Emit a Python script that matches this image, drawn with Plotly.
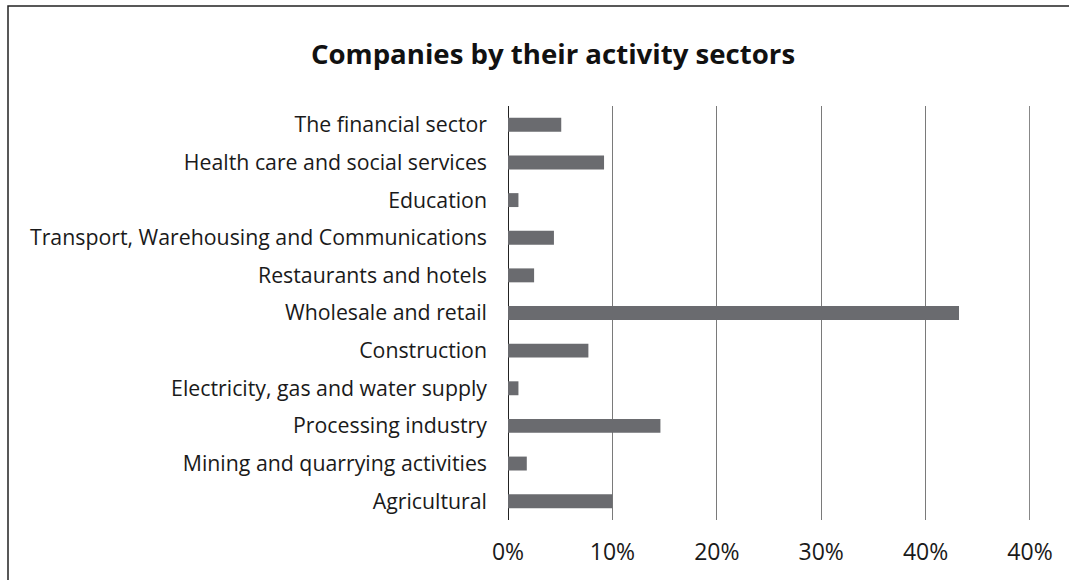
import plotly.graph_objects as go

categories = [
    "Agricultural",
    "Mining and quarrying activities",
    "Processing industry",
    "Electricity, gas and water supply",
    "Construction",
    "Wholesale and retail",
    "Restaurants and hotels",
    "Transport, Warehousing and Communications",
    "Education",
    "Health care and social services",
    "The financial sector",
]
values = [10.0, 1.8, 14.6, 1.0, 7.7, 43.2, 2.5, 4.4, 1.0, 9.2, 5.1]
tick_vals = [0, 10, 20, 30, 40, 50]
tick_text = ["0%", "10%", "20%", "30%", "40%", "40%"]

W, H = 1069, 580
ML, MR, MT, MB = 508, 39, 106, 60
PW, PH = W - ML - MR, H - MT - MB

fig = go.Figure(go.Bar(
    x=values, y=categories, orientation="h",
    marker=dict(color="#6a6b6f", line=dict(width=0)),
    hoverinfo="x+y",
))

def px_x(p):
    return (p - ML) / PW

def px_y(p):
    return (H - MB - p) / PH

fig.update_layout(
    width=W, height=H,
    margin=dict(l=ML, r=MR, t=MT, b=MB),
    paper_bgcolor="white", plot_bgcolor="white",
    font=dict(family="Open Sans, Noto Sans, sans-serif", size=21.3, color="#1a1a1a"),
    title=dict(text="<b>Companies by their activity sectors</b>",
               x=553 / W, xanchor="center", y=1 - 54 / H, yanchor="middle",
               font=dict(size=27.6, color="#111111")),
    bargap=0.63,
    showlegend=False,
    xaxis=dict(range=[0, 50], tickvals=tick_vals, ticktext=tick_text,
               showgrid=True, gridcolor="#7a7a7a", gridwidth=1,
               zeroline=True, zerolinecolor="#222222", zerolinewidth=1,
               showline=False, ticks="", ticklabelstandoff=16,
               tickfont=dict(size=23), fixedrange=True),
    yaxis=dict(categoryorder="array", categoryarray=categories,
               showgrid=False, ticks="", ticklabelstandoff=20,
               showline=False, fixedrange=True),
    shapes=[
        dict(type="line", xref="x", yref="paper", x0=50, x1=50, y0=0, y1=1,
             line=dict(color="#111111", width=1)),
        dict(type="rect", xref="paper", yref="paper",
             x0=px_x(8), x1=px_x(1090), y0=px_y(600), y1=px_y(6),
             line=dict(color="#222222", width=1.5), layer="below"),
    ],
)

fig.write_html("out.html", config={"displayModeBar": False},
               post_script="document.body.style.margin='0';")
